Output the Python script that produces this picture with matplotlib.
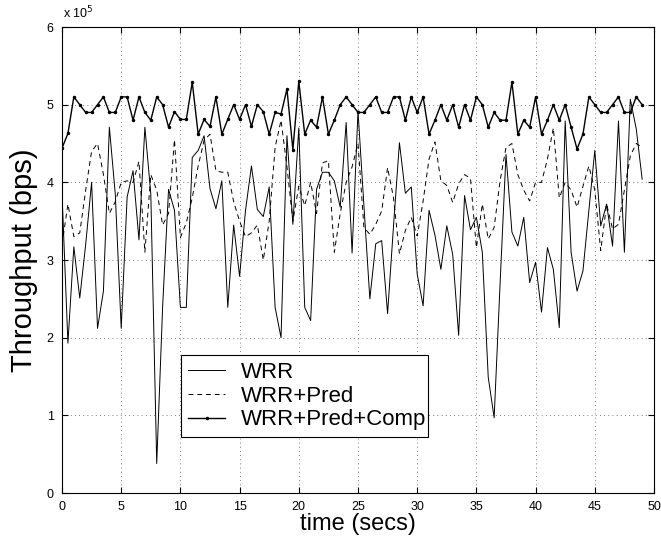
import numpy as np
import matplotlib
matplotlib.use("Agg")
import matplotlib.pyplot as plt

plt.rcParams['font.family'] = ['Liberation Sans', 'DejaVu Sans']

# time axis: one sample every 0.5 s
t = np.arange(0, 49.01, 0.5)

# throughput values in units of 1e5 bps
wrr = [3.86, 1.93, 3.17, 2.51, 3.2, 4.0, 2.12, 2.6, 4.71, 3.85,
       2.12, 3.81, 4.15, 3.26, 4.71, 3.85, 0.38, 2.4, 3.91, 3.64,
       2.39, 2.39, 4.32, 4.41, 4.6, 3.92, 3.66, 4.02, 2.39, 3.45,
       2.79, 3.64, 4.21, 3.65, 3.56, 3.94, 2.39, 2.0, 4.6, 3.46,
       4.7, 2.39, 2.22, 3.91, 4.13, 4.13, 4.02, 3.68, 4.77, 3.09,
       4.92, 3.7, 2.5, 3.21, 3.25, 2.31, 3.44, 4.51, 3.86, 3.94,
       2.82, 2.41, 3.64, 3.32, 2.88, 3.44, 3.07, 2.03, 3.83, 3.39,
       3.55, 3.1, 1.49, 0.97, 2.69, 4.36, 3.36, 3.18, 3.55, 2.71,
       2.97, 2.33, 3.16, 2.88, 2.13, 4.79, 3.1, 2.6, 2.86, 3.64,
       4.41, 3.44, 3.72, 3.18, 4.79, 3.1, 5.07, 4.69, 4.04]

wrr_pred = [3.2, 3.72, 3.3, 3.35, 3.9, 4.4, 4.5, 4.1, 3.6, 3.75,
            4.0, 4.02, 4.0, 4.27, 3.1, 4.1, 3.9, 3.45, 3.6, 4.55,
            3.29, 3.48, 3.8, 4.21, 4.54, 4.62, 4.15, 4.13, 4.13, 3.75,
            3.5, 3.3, 3.35, 3.45, 3.0, 3.5, 4.45, 4.8, 4.2, 3.5,
            3.95, 3.7, 4.0, 3.6, 4.25, 4.28, 3.1, 3.6, 4.0, 4.2,
            4.5, 3.42, 3.33, 3.46, 3.63, 4.19, 3.8, 3.08, 3.38, 3.55,
            3.31, 3.76, 4.3, 4.52, 4.02, 3.96, 3.74, 3.98, 4.1, 4.05,
            3.16, 3.72, 3.27, 3.42, 4.02, 4.45, 4.5, 4.1, 3.9, 3.76,
            4.0, 4.0, 4.3, 4.7, 3.8, 4.0, 3.9, 3.68, 3.95, 4.21,
            3.9, 3.12, 3.72, 3.4, 3.46, 3.9, 4.34, 4.5, 4.45]

wrr_pred_comp = [4.44, 4.63, 5.1, 5.0, 4.9, 4.9, 5.0, 5.1, 4.9, 4.9,
                 5.1, 5.1, 4.8, 5.1, 4.9, 4.8, 5.1, 5.0, 4.71, 4.91,
                 4.81, 4.81, 5.29, 4.62, 4.81, 4.72, 5.1, 4.62, 4.81, 5.0,
                 4.81, 5.0, 4.72, 5.0, 4.91, 4.62, 4.9, 4.88, 5.2, 4.42,
                 5.3, 4.62, 4.8, 4.71, 5.1, 4.62, 4.8, 5.0, 5.1, 5.0,
                 4.9, 4.9, 5.0, 5.1, 4.9, 4.9, 5.1, 5.1, 4.8, 5.1,
                 4.9, 5.1, 4.62, 4.8, 5.0, 4.8, 5.0, 4.71, 5.0, 4.8,
                 5.1, 5.0, 4.71, 4.9, 4.8, 4.8, 5.29, 4.62, 4.8, 4.71,
                 5.1, 4.62, 4.8, 5.0, 4.8, 5.0, 4.71, 4.43, 4.62, 5.1,
                 5.0, 4.9, 4.9, 5.0, 5.1, 4.9, 4.9, 5.1, 5.0]

fig = plt.figure(figsize=(6.61, 5.38), dpi=100)
ax = fig.add_axes([0.0938, 0.0836, 0.8956, 0.8662])

ax.plot(t, wrr, color="black", linewidth=0.7, label="WRR")
ax.plot(t, wrr_pred, color="black", linewidth=0.7, dashes=(5, 4), label="WRR+Pred")
ax.plot(t, wrr_pred_comp, color="black", linewidth=1.0, marker=".",
        markersize=3, label="WRR+Pred+Comp")

ax.set_xlim(0, 50)
ax.set_ylim(0, 6)
ax.set_xticks(np.arange(0, 51, 5))
ax.set_yticks(np.arange(0, 7, 1))
ax.tick_params(direction="in", top=True, right=True, labelsize=9, length=4, pad=6)
ax.grid(True, color="#555555", linestyle=(0, (1, 4)), linewidth=0.6)
for s in ax.spines.values():
    s.set_linewidth(0.8)

ax.text(0.002, 1.012, r"x 10$^5$", transform=ax.transAxes, fontsize=9,
        ha="left", va="bottom")

ax.set_xlabel("time (secs)", fontsize=17, labelpad=0)
ax.set_ylabel("Throughput (bps)", fontsize=21, labelpad=6)

leg = ax.legend(loc="lower left", bbox_to_anchor=(0.201, 0.12, 0.417, 0.165),
                mode="expand", borderaxespad=0, fontsize=16, handlelength=1.7,
                handletextpad=0.7, borderpad=0.3, labelspacing=0.12,
                fancybox=False, framealpha=1, edgecolor="black")
leg.get_frame().set_linewidth(0.8)

fig.savefig("out.png", dpi=100)
